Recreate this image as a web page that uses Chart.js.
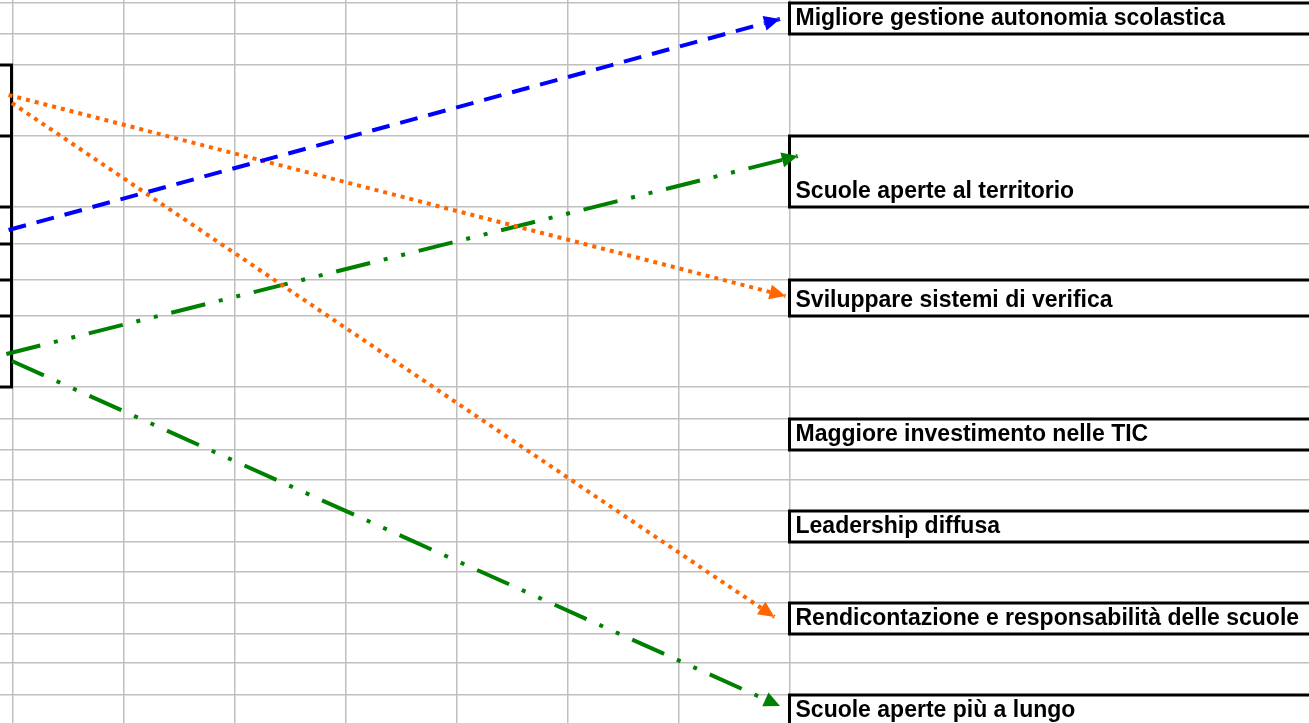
<!DOCTYPE html>
<html>
<head>
<meta charset="utf-8">
<script src="https://cdn.jsdelivr.net/npm/chart.js@4.4.0/dist/chart.umd.min.js"></script>
<style>
html, body { margin: 0; padding: 0; background: #fff; overflow: hidden; }
#wrap { width: 1309px; height: 723px; position: relative; }
</style>
</head>
<body>
<div id="wrap"><canvas id="sheet"></canvas></div>
<script>
// sheet columns (gridlines), in column units
var colLines = [0, 1, 2, 3, 4, 5, 6, 7];
// sheet rows (gridlines), in points from the top
var rowLines = [3, 34, 65, 136, 207, 244, 280, 316, 387, 419, 450, 480, 511, 542, 572, 603, 634, 663, 695, 726];

// boxes on the right: label and the gridline index of their top edge
var outcomes = [
	'Migliore gestione autonomia scolastica',
	'Scuole aperte al territorio',
	'Sviluppare sistemi di verifica',
	'Maggiore investimento nelle TIC',
	'Leadership diffusa',
	'Rendicontazione e responsabilità delle scuole',
	'Scuole aperte più a lungo'
];
var outcomeRow = [0, 3, 6, 9, 12, 15, 18];
// left block (column A), first and last gridline index
var sourceRows = [2, 8];

// arrows: start (column, row point) -> end (column, row point)
var arrowFromX = [-0.04, -0.04, -0.01, -0.06, -0.01];
var arrowFromY = [230, 95, 103, 354, 361];
var arrowToX = [6.91, 6.96, 6.86, 7.07, 6.91];
var arrowToY = [19, 296, 617, 156, 706];

var arrowColor = ['#0000ff', '#ff6600', '#ff6600', '#008000', '#008000'];
var arrowDash = [[18, 11], [4, 5], [4, 5], [35, 14, 4, 14, 4, 14], [35, 14, 4, 14, 4, 14]];

var datasets = arrowFromX.map(function(x0, i) {
	return {
		data: [{x: x0, y: arrowFromY[i]}, {x: arrowToX[i], y: arrowToY[i]}],
		showLine: true,
		fill: false,
		borderColor: arrowColor[i],
		backgroundColor: arrowColor[i],
		borderWidth: 4,
		borderDash: arrowDash[i],
		borderCapStyle: 'butt',
		pointRadius: 0,
		clip: false
	};
});

var HEAD_LEN = 16, HEAD_W = 7.5;

function headPoints(meta) {
	var p0 = meta.data[0], p1 = meta.data[meta.data.length - 1];
	var a = Math.atan2(p1.y - p0.y, p1.x - p0.x);
	var bx = p1.x - HEAD_LEN * Math.cos(a), by = p1.y - HEAD_LEN * Math.sin(a);
	return [
		[p1.x, p1.y],
		[bx - HEAD_W * Math.sin(a), by + HEAD_W * Math.cos(a)],
		[bx + HEAD_W * Math.sin(a), by - HEAD_W * Math.cos(a)]
	];
}

var sheetPlugin = {
	id: 'sheet',
	beforeDatasetsDraw: function(chart) {
		var ctx = chart.ctx, xs = chart.scales.x, ys = chart.scales.y;
		var area = chart.chartArea;
		ctx.save();
		ctx.strokeStyle = '#000';
		ctx.lineWidth = 3;
		ctx.lineCap = 'square';

		// left block borders
		var lx = Math.round(xs.getPixelForValue(0)) - 1.5;
		var t = ys.getPixelForValue(rowLines[sourceRows[0]]);
		var b = ys.getPixelForValue(rowLines[sourceRows[1]]);
		ctx.beginPath();
		ctx.moveTo(lx, t); ctx.lineTo(lx, b);
		for (var r = sourceRows[0]; r <= sourceRows[1]; r++) {
			var yy = Math.round(ys.getPixelForValue(rowLines[r]));
			ctx.moveTo(area.left - 2, yy); ctx.lineTo(lx, yy);
		}
		ctx.stroke();

		// boxes on the right with their labels
		var rx = Math.round(xs.getPixelForValue(7)) - 0.5;
		ctx.font = 'bold 23px "Liberation Sans", Arial, sans-serif';
		ctx.fillStyle = '#000';
		ctx.textBaseline = 'alphabetic';
		outcomes.forEach(function(label, i) {
			var top = Math.round(ys.getPixelForValue(rowLines[outcomeRow[i]]));
			var bot = Math.round(ys.getPixelForValue(rowLines[outcomeRow[i] + 1]));
			ctx.beginPath();
			ctx.moveTo(area.right + 3, top); ctx.lineTo(rx, top);
			ctx.lineTo(rx, bot); ctx.lineTo(area.right + 3, bot);
			ctx.stroke();
			ctx.fillText(label, rx + 6, bot - 9);
		});
		ctx.restore();
	},
	beforeDatasetDraw: function(chart, args) {
		// keep the dashed line out of its own arrowhead
		var ctx = chart.ctx, pts = headPoints(args.meta);
		ctx.save();
		ctx.beginPath();
		ctx.rect(-10, -10, chart.width + 20, chart.height + 20);
		ctx.moveTo(pts[0][0], pts[0][1]);
		ctx.lineTo(pts[2][0], pts[2][1]);
		ctx.lineTo(pts[1][0], pts[1][1]);
		ctx.closePath();
		ctx.clip('evenodd');
	},
	afterDatasetDraw: function(chart, args) {
		var ctx = chart.ctx, pts = headPoints(args.meta);
		ctx.restore();
		ctx.save();
		ctx.fillStyle = arrowColor[args.index];
		ctx.beginPath();
		ctx.moveTo(pts[0][0], pts[0][1]);
		ctx.lineTo(pts[1][0], pts[1][1]);
		ctx.lineTo(pts[2][0], pts[2][1]);
		ctx.closePath();
		ctx.fill();
		ctx.restore();
	}
};

var ctx = document.getElementById('sheet').getContext('2d');
var sheet = new Chart(ctx, {
	type: 'scatter',
	data: { datasets: datasets },
	plugins: [sheetPlugin],
	options: {
		responsive: true,
		maintainAspectRatio: false,
		animation: false,
		layout: { padding: 0 },
		plugins: { legend: { display: false }, tooltip: { enabled: false } },
		scales: {
			x: {
				type: 'linear',
				min: -13 / 111,
				max: (1309 - 13) / 111,
				afterBuildTicks: function(axis) { axis.ticks = colLines.map(function(v) { return {value: v}; }); },
				afterFit: function(axis) { axis.height = 0; },
				ticks: { display: false },
				border: { display: false },
				grid: { color: '#c0c0c0', lineWidth: 1.5, drawTicks: false }
			},
			y: {
				type: 'linear',
				reverse: true,
				min: 0,
				max: 723,
				afterBuildTicks: function(axis) { axis.ticks = rowLines.map(function(v) { return {value: v}; }); },
				afterFit: function(axis) { axis.width = 0; },
				ticks: { display: false },
				border: { display: false },
				grid: { color: '#c0c0c0', lineWidth: 1.5, drawTicks: false }
			}
		}
	}
});
</script>
</body>
</html>
